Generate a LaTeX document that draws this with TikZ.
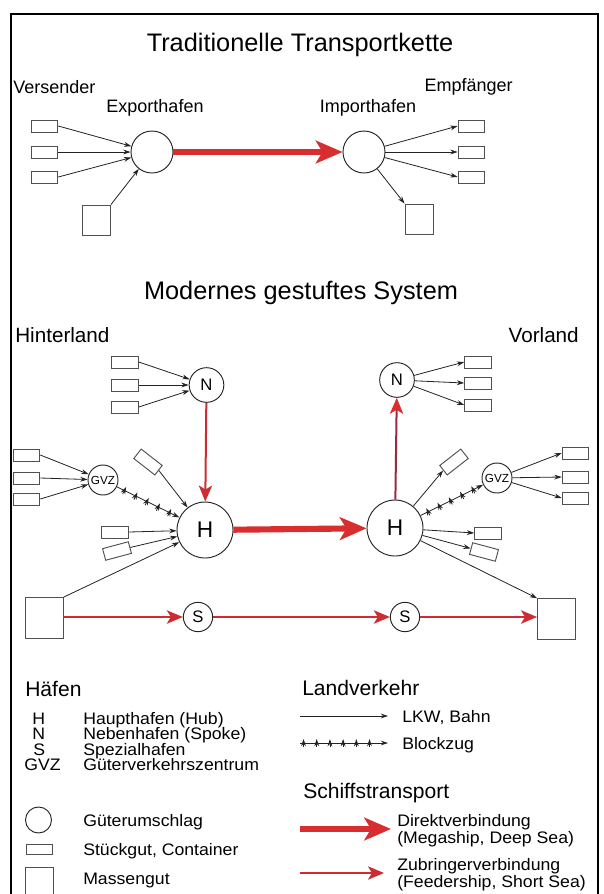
\documentclass[tikz,border=0pt]{standalone}
\usepackage{fontspec}
\setmainfont{Liberation Sans}
\newfontfamily\legfont[FakeStretch=1.06]{Liberation Sans}
\usetikzlibrary{arrows.meta,decorations.markings}
\definecolor{shipred}{RGB}{216,46,48}
\definecolor{feedline}{RGB}{205,45,50}
\definecolor{darkred}{RGB}{150,45,60}
\definecolor{linegray}{RGB}{35,35,35}
\definecolor{boxgray}{RGB}{80,80,80}
\begin{document}
\begin{tikzpicture}[x=0.75pt,y=-0.75pt,
  title/.style={font=\fontsize{19}{22}\selectfont,inner sep=0pt},
  lbl/.style={font=\fontsize{13.5}{16}\selectfont,inner sep=0pt},
  area/.style={font=\fontsize{15.5}{18}\selectfont,inner sep=0pt},
  head/.style={font=\fontsize{15.8}{18}\selectfont,anchor=west,inner sep=0pt},
  item/.style={font=\legfont\fontsize{12.5}{12.8}\selectfont,anchor=base west,inner sep=0pt},
  item2/.style={font=\legfont\fontsize{12.5}{12.8}\selectfont,anchor=west,align=left,inner sep=0pt},
  port/.style={circle,draw=linegray,line width=0.7pt,inner sep=0pt,fill=white},
  bigport/.style={port,minimum size=31.5pt},
  hub/.style={port,minimum size=42pt,font=\fontsize{17}{17}\selectfont},
  spoke/.style={port,minimum size=26pt,font=\fontsize{12.5}{12.5}\selectfont},
  gvz/.style={port,minimum size=22.5pt,font=\fontsize{8.8}{9}\selectfont},
  spec/.style={port,minimum size=22pt,font=\fontsize{12.5}{12.5}\selectfont},
  cargo/.style={rectangle,draw=boxgray,line width=0.7pt,inner sep=0pt,minimum width=20pt,minimum height=9pt,fill=white},
  bulk/.style={rectangle,draw=boxgray,line width=0.7pt,inner sep=0pt,minimum width=21pt,minimum height=22.5pt},
  bigbulk/.style={rectangle,draw=boxgray,line width=0.7pt,inner sep=0pt,minimum width=28.5pt,minimum height=30.5pt},
  land/.style={draw=linegray,line width=0.6pt,-{Stealth[length=5.5pt,width=3.6pt]}},
  blockzug/.style={land,postaction={decorate},decoration={markings,
     mark=between positions 0.12 and 0.86 step 0.18 with {\draw[line width=0.6pt,linegray] (0,-3pt) -- (0,3pt);}}},
  deepsea/.style={draw=shipred,line width=4.6pt,-{Stealth[length=20pt,width=17pt,inset=5pt]}},
  feeder/.style={draw=feedline,line width=1.5pt,-{Stealth[length=12pt,width=10pt,inset=3pt]}},
]
\useasboundingbox (0,0) rectangle (604,894);
\fill[white] (0,0) rectangle (604,894);
% frame
\draw[line width=1.1pt] (11,894) -- (11,14) -- (598,14) -- (598,894);

% ===== Traditionelle Transportkette =====
\node[title] (t1) at (300,45) {Traditionelle Transportkette};
\node[lbl,anchor=west] (vers) at (13,87) {Versender};
\node[lbl,anchor=east] (empf) at (513,87) {Empfänger};
\node[lbl] (exl) at (155,108) {Exporthafen};
\node[lbl] (iml) at (368,108) {Importhafen};

\node[bigport] (EX) at (152,152) {};
\node[bigport] (IM) at (364,152) {};
\node[cargo] (a1) at (44.5,126) {};
\node[cargo] (a2) at (44.5,152) {};
\node[cargo] (a3) at (44.5,177) {};
\node[bulk] (as) at (96.5,220) {};
\node[cargo] (b1) at (471.5,126) {};
\node[cargo] (b2) at (471.5,152) {};
\node[cargo] (b3) at (471.5,177) {};
\node[bulk] (bs) at (419,219) {};

\draw[land] (a1.east) -- (EX);
\draw[land] (a2.east) -- (EX);
\draw[land] (a3.east) -- (EX);
\draw[land] (as.north east) -- (EX);
\draw[land] (IM) -- (b1.west);
\draw[land] (IM) -- (b2.west);
\draw[land] (IM) -- (b3.west);
\draw[land] (IM) -- (bs.north west);
\draw[deepsea] (EX) -- (IM);

% ===== Modernes gestuftes System =====
\node[title] (t2) at (301,293) {Modernes gestuftes System};
\node[area,anchor=west] (hint) at (15,335) {Hinterland};
\node[area,anchor=east] (vorl) at (579,335) {Vorland};

\node[spoke] (NL) at (206.5,385) {N};
\node[spoke] (NR) at (397,380) {N};
\node[hub] (HL) at (205,530) {H};
\node[hub] (HR) at (395,528) {H};
\node[gvz] (GL) at (103,480) {GVZ};
\node[gvz] (GR) at (497,478) {GVZ};
\node[spec] (SL) at (198,617) {S};
\node[spec] (SR) at (405,617) {S};
\node[bigbulk] (BL) at (44,618) {};
\node[bigbulk] (BR) at (556.5,619) {};

% left spoke cargo
\node[cargo] (n1) at (125,362) {};
\node[cargo] (n2) at (125,385) {};
\node[cargo] (n3) at (125,407) {};
\draw[land] (n1.east) -- (NL);
\draw[land] (n2.east) -- (NL);
\draw[land] (n3.east) -- (NL);
% right spoke cargo
\node[cargo] (m1) at (478,362) {};
\node[cargo] (m2) at (478,383) {};
\node[cargo] (m3) at (478,405) {};
\draw[land] (NR) -- (m1.west);
\draw[land] (NR) -- (m2.west);
\draw[land] (NR) -- (m3.west);
% left GVZ cargo
\node[cargo] (g1) at (26.5,455) {};
\node[cargo] (g2) at (26.5,478) {};
\node[cargo] (g3) at (26.5,499) {};
\draw[land] (g1.east) -- (GL);
\draw[land] (g2.east) -- (GL);
\draw[land] (g3.east) -- (GL);
% right GVZ cargo
\node[cargo] (h1) at (575.5,453) {};
\node[cargo] (h2) at (575.5,477) {};
\node[cargo] (h3) at (575.5,498) {};
\draw[land] (GR) -- (h1.west);
\draw[land] (GR) -- (h2.west);
\draw[land] (GR) -- (h3.west);

% cargo directly at hubs
\node[cargo,rotate=-38] (tl1) at (148,462) {};
\node[cargo] (sl1) at (115,532) {};
\node[cargo,rotate=15] (tl2) at (117,551) {};
\draw[land] (tl1.east) -- (HL);
\draw[land] (sl1.east) -- (HL);
\draw[land] (tl2.east) -- (HL);
\node[cargo,rotate=38] (tr1) at (454,462) {};
\node[cargo] (sr1) at (488,533) {};
\node[cargo,rotate=-15] (tr2) at (484,552) {};
\draw[land] (HR) -- (tr1.west);
\draw[land] (HR) -- (sr1.west);
\draw[land] (HR) -- (tr2.west);

% block trains
\draw[blockzug] (GL) -- (HL);
\draw[blockzug] (HR) -- (GR);

% bulk to / from hubs
\draw[land] (BL.north east) -- (HL);
\draw[land] (HR) -- (BR.north west);

% shipping
\draw[feeder] (NL) -- (HL);
\draw[draw=darkred,line width=1.5pt,-{Stealth[length=12pt,width=10pt,inset=3pt,color=shipred]}] (HR) -- (NR);
\draw[deepsea] (HL) -- (HR);
\draw[feeder] (BL.east |- SL) -- (SL);
\draw[feeder] (SL) -- (SR);
\draw[feeder] (SR) -- (BR.west |- SR);

% ===== Legend =====
\node[head] (hf) at (25,689) {Häfen};
\node[item] (kH) at (32,724) {H};
\node[item] (kN) at (32,739.5) {N};
\node[item] (kS) at (33,755) {S};
\node[item] (kG) at (24,770.5) {GVZ};
\node[item] (tH) at (83,724) {Haupthafen (Hub)};
\node[item] (tN) at (83,739.5) {Nebenhafen (Spoke)};
\node[item] (tS) at (83,755) {Spezialhafen};
\node[item] (tG) at (83,770.5) {Güterverkehrszentrum};

\node[port,minimum size=19.5pt] (lc) at (38.5,820) {};
\node[item] (tc) at (83,826) {Güterumschlag};
\node[cargo,minimum height=7.5pt] (lr) at (39.5,849) {};
\node[item] (tr) at (83,855) {Stückgut, Container};
\node[bulk] (lq) at (39.5,882) {};
\node[item] (tq) at (83,884) {Massengut};

\node[head] (lv) at (302,688) {Landverkehr};
\coordinate (la1) at (300,716);
\coordinate (la2) at (388,716);
\draw[land] (la1) -- (la2);
\node[item] (tl) at (402,722) {LKW, Bahn};
\coordinate (lb1) at (300,743);
\coordinate (lb2) at (388,743);
\draw[land,postaction={decorate},decoration={markings,
     mark=between positions 0.04 and 0.8 step 0.15 with {\draw[line width=0.6pt,linegray] (0,-3pt) -- (0,3pt);}}] (lb1) -- (lb2);
\node[item] (tb) at (402,749) {Blockzug};

\node[head] (sf) at (303,793) {Schiffstransport};
\coordinate (ld1) at (300,829);
\coordinate (ld2) at (391,829);
\draw[deepsea] (ld1) -- (ld2);
\node[item2] (td) at (397,831) {Direktverbindung\\(Megaship, Deep Sea)};
\coordinate (lf1) at (300,873);
\coordinate (lf2) at (384,873);
\draw[feeder] (lf1) -- (lf2);
\node[item2] (tf) at (397,875) {Zubringerverbindung\\(Feedership, Short Sea)};
\end{tikzpicture}
\end{document}
